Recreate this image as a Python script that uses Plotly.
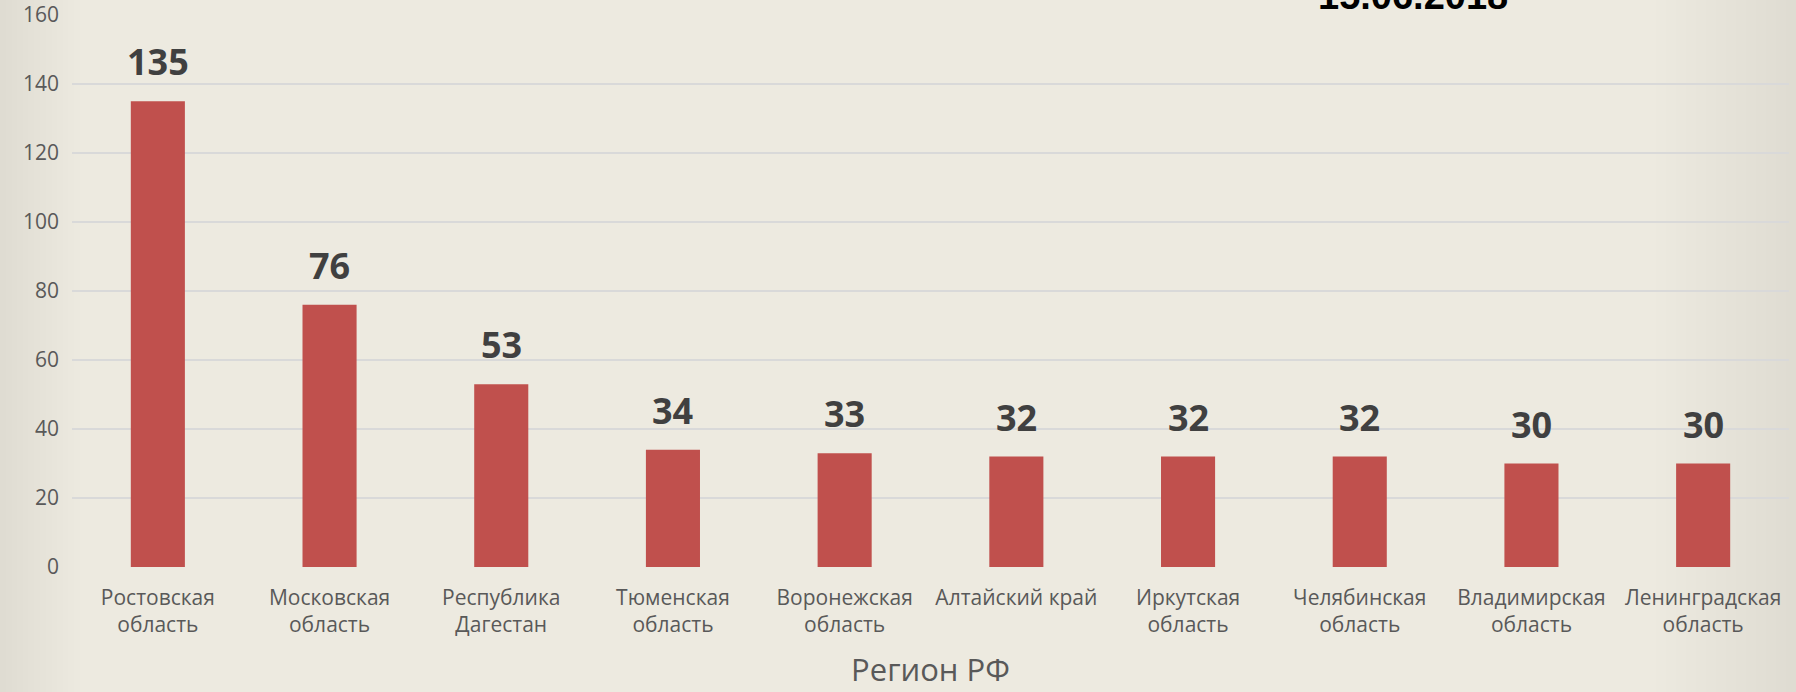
import plotly.graph_objects as go

regions = ["Ростовская<br>область", "Московская<br>область", "Республика<br>Дагестан",
           "Тюменская<br>область", "Воронежская<br>область", "Алтайский край",
           "Иркутская<br>область", "Челябинская<br>область", "Владимирская<br>область",
           "Ленинградская<br>область"]
counts = [135, 76, 53, 34, 33, 32, 32, 32, 30, 30]
y_ticks = [0, 20, 40, 60, 80, 100, 120, 140, 160]
title_text = "15.06.2018"
x_title = "Регион РФ"

W, H = 1796, 692
ML, MR, MT, MB = 72, 7, 15, 125
pw = W - ML - MR
ph = H - MT - MB

fig = go.Figure()
fig.add_trace(go.Bar(
    x=regions, y=counts,
    marker=dict(color="#C0504D", line=dict(width=0)),
    width=0.315,
    hoverinfo="x+y",
))

# data labels
for r, v in zip(regions, counts):
    fig.add_annotation(x=r, y=v, text=f"<b>{v}</b>", showarrow=False,
                       yanchor="bottom", yshift=13,
                       font=dict(family="Open Sans", size=36, color="#404040"))

# title (partially cut off at top)
fig.add_annotation(xref="paper", yref="paper", x=(1413 - ML) / pw, y=1.0,
                   xanchor="center", yanchor="middle", yshift=19,
                   text=f"<b>{title_text}</b>", showarrow=False,
                   font=dict(family="Liberation Sans", size=38, color="#000000"))

# background vignette
shapes = []
n = 14
for i in range(n):
    w = 80 * (i + 1) / n
    shapes.append(dict(type="rect", xref="paper", yref="paper",
                       x0=-ML / pw, x1=(-ML + w) / pw, y0=-MB / ph, y1=1 + MT / ph,
                       fillcolor="#C8C0A0", opacity=0.012, line=dict(width=0), layer="below"))
for i in range(n):
    w = 140 * (i + 1) / n
    shapes.append(dict(type="rect", xref="paper", yref="paper",
                       x0=(pw + MR - w) / pw, x1=(pw + MR) / pw, y0=-MB / ph, y1=1 + MT / ph,
                       fillcolor="#C8C0A0", opacity=0.016, line=dict(width=0), layer="below"))

fig.update_layout(
    width=W, height=H,
    margin=dict(l=ML, r=MR, t=MT, b=MB, autoexpand=False),
    paper_bgcolor="#EDEAE0",
    plot_bgcolor="rgba(0,0,0,0)",
    showlegend=False,
    shapes=shapes,
    bargap=0.685,
    xaxis=dict(
        tickfont=dict(family="Open Sans", size=21, color="#595959"),
        title=dict(text=x_title, font=dict(family="Open Sans", size=31, color="#595959"), standoff=22),
        showgrid=False, zeroline=False, showline=False, ticks="",
        ticklabelstandoff=16, automargin=False,
    ),
    yaxis=dict(
        range=[0, 160], tickvals=y_ticks,
        tickfont=dict(family="Open Sans", size=21, color="#595959"),
        gridcolor="#D9D9D9", gridwidth=2, zeroline=False, showline=False,
        ticks="", ticklabelstandoff=12, automargin=False,
    ),
)

fig.write_html("out.html", config={"displayModeBar": False},
               post_script="document.body.style.margin='0';document.body.style.background='#EDEAE0';")
